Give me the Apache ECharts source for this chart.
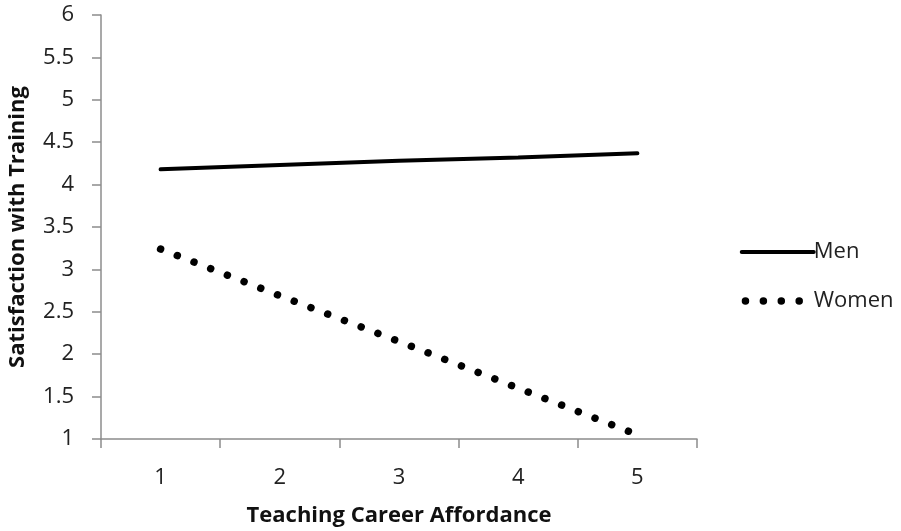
<!DOCTYPE html>
<html>
<head>
<meta charset="utf-8">
<script src="https://cdn.jsdelivr.net/npm/echarts@6/dist/echarts.min.js"></script>
<style>
html,body{margin:0;padding:0;background:#fff;}
#chart{width:901px;height:531px;}
</style>
</head>
<body>
<div id="chart"></div>
<script>
const categories = ['1', '2', '3', '4', '5'];
const menValues = [4.18, 4.23, 4.28, 4.32, 4.37];
const womenValues = [3.24, 2.69, 2.15, 1.60, 1.05];
const seriesNames = ['Men', 'Women'];
const xAxisTitle = 'Teaching Career Affordance';
const yAxisTitle = 'Satisfaction with Training';

const FONT = 'Open Sans';
const chart = echarts.init(document.getElementById('chart'), null, {renderer: 'canvas'});
chart.setOption({
  backgroundColor: '#fff',
  animation: false,
  grid: {left: 101, right: 204, top: 15, bottom: 92, containLabel: false, outerBoundsMode: 'none'},
  legend: {
    orient: 'vertical',
    left: 733,
    top: 236,
    itemWidth: 72,
    itemHeight: 14,
    itemGap: 27,
    itemStyle: {opacity: 0},
    textStyle: {fontFamily: FONT, fontSize: 22, lineHeight: 22, color: '#222', padding: [0, 0, 0, -5]},
    data: [
      {name: seriesNames[0], lineStyle: {width: 4, cap: 'round'}},
      {name: seriesNames[1], lineStyle: {width: 7.5, type: [0.01, 17.9], dashOffset: 14.2, cap: 'round'}}
    ]
  },
  xAxis: {
    type: 'category',
    data: categories,
    boundaryGap: true,
    name: xAxisTitle,
    nameLocation: 'middle',
    nameGap: 66,
    nameTextStyle: {fontFamily: FONT, fontSize: 22, fontWeight: 'bold', color: '#111'},
    axisLine: {lineStyle: {color: '#8c8c8c', width: 1.5}},
    axisTick: {show: true, length: 9, lineStyle: {color: '#8c8c8c', width: 1.5}},
    axisLabel: {fontFamily: FONT, fontSize: 22, color: '#222', margin: 28}
  },
  yAxis: {
    type: 'value',
    min: 1,
    max: 6,
    interval: 0.5,
    name: yAxisTitle,
    nameLocation: 'middle',
    nameGap: 72,
    nameRotate: 90,
    nameTextStyle: {fontFamily: FONT, fontSize: 22, fontWeight: 'bold', color: '#111'},
    axisLine: {show: true, lineStyle: {color: '#8c8c8c', width: 1.5}},
    axisTick: {show: true, length: 9, lineStyle: {color: '#8c8c8c', width: 1.5}},
    splitLine: {show: false},
    axisLabel: {fontFamily: FONT, fontSize: 22, color: '#222', margin: 27}
  },
  series: [
    {
      name: seriesNames[0],
      type: 'line',
      data: menValues,
      symbol: 'none',
      itemStyle: {color: '#000'},
      lineStyle: {color: '#000', width: 4, cap: 'round'}
    },
    {
      name: seriesNames[1],
      type: 'line',
      data: womenValues,
      symbol: 'none',
      itemStyle: {color: '#000'},
      lineStyle: {color: '#000', width: 7.5, type: [0.01, 17.92], cap: 'round'}
    }
  ]
});
</script>
</body>
</html>
